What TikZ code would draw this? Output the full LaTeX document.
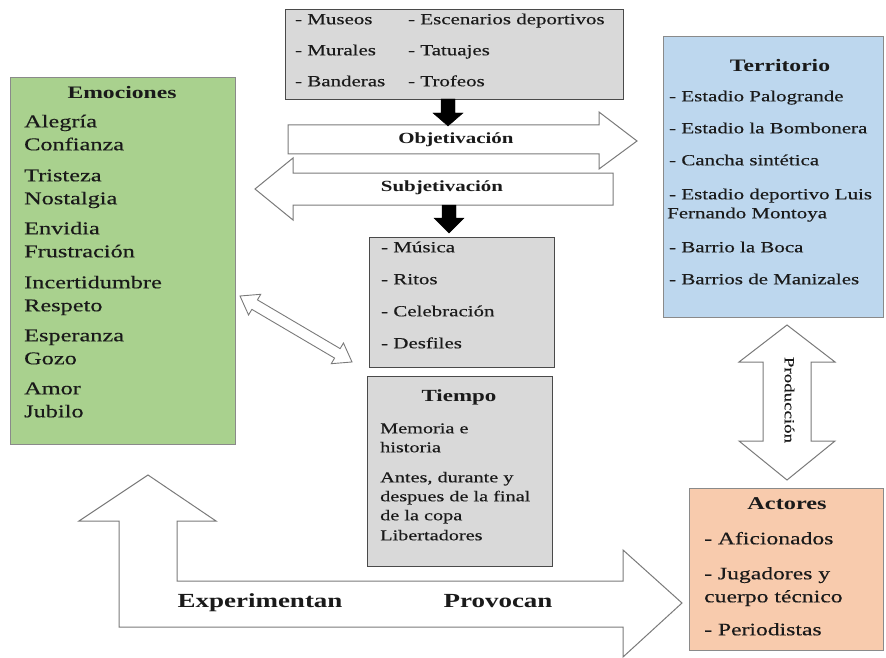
\documentclass[tikz,border=0pt]{standalone}
\usepackage{fontspec}
\setmainfont{Liberation Serif}[FakeStretch=1.35]
\newfontfamily\heavy{Liberation Serif}[FakeStretch=1.35, FakeBold=0.35]
\definecolor{grayfill}{HTML}{D9D9D9}
\definecolor{grayline}{HTML}{4A4A4A}
\definecolor{greenfill}{HTML}{A9D18E}
\definecolor{bluefill}{HTML}{BDD7EE}
\definecolor{orangefill}{HTML}{F8CBAD}
\definecolor{softline}{HTML}{8A8A8A}
\definecolor{arrowline}{HTML}{7A7A7A}
\definecolor{txtcol}{HTML}{1A1A1A}
\newcommand\fsz[1]{\heavy\fontsize{#1}{#1}\selectfont}
\newcommand\bsz[1]{\fontsize{#1}{#1}\selectfont\bfseries}
\begin{document}
\begin{tikzpicture}[x=1pt,y=-1pt,
  boxbase/.style={anchor=north west, inner sep=0pt, line width=1.1pt},
  graybox/.style={boxbase, draw=grayline, fill=grayfill},
  greenbox/.style={boxbase, draw=softline, fill=greenfill},
  bluebox/.style={boxbase, draw=softline, fill=bluefill},
  orangebox/.style={boxbase, draw=softline, fill=orangefill},
  txt/.style={anchor=mid west, inner sep=0pt, text=txtcol},
  ctxt/.style={anchor=mid, inner sep=0pt, text=txtcol},
  hollow/.style={draw=arrowline, fill=white, line width=1pt, line join=miter},
  blk/.style={fill=black, draw=black, line width=0.4pt, line join=miter}]
\useasboundingbox (0,0) rectangle (886,658);

% ---------- boxes ----------
\node[graybox, minimum width=338pt, minimum height=90pt] (objetos) at (285,9) {};
\node[graybox, minimum width=185pt, minimum height=130pt] (musica) at (369,237) {};
\node[graybox, minimum width=185pt, minimum height=190pt] (tiempo) at (367,376) {};
\node[greenbox, minimum width=225pt, minimum height=367pt] (emociones) at (10,77) {};
\node[bluebox, minimum width=220pt, minimum height=281pt] (territorio) at (663,36) {};
\node[orangebox, minimum width=194pt, minimum height=162pt] (actores) at (689,488) {};

% ---------- hollow arrows ----------
% Objetivacion (to the right)
\draw[hollow] (288,125) -- (599,125) -- (599,112) -- (637,141) -- (599,169)
  -- (599,154) -- (288,154) -- cycle;
% Subjetivacion (to the left)
\draw[hollow] (613,173) -- (293,173) -- (293,158) -- (255,189) -- (293,220)
  -- (293,205) -- (613,205) -- cycle;
% Produccion (vertical double)
\draw[hollow] (787,325) -- (835,362) -- (811,362) -- (811,441) -- (835,441)
  -- (787,480) -- (739,441) -- (763,441) -- (763,362) -- (739,362) -- cycle;
% diagonal double arrow
\begin{scope}[shift={(240,296)}, rotate=-30.5]
\draw[hollow, line width=0.9pt] (0,0) -- (17,-12) -- (17,-5.5) -- (113,-5.5) -- (113,-12)
  -- (130,0) -- (113,12) -- (113,5.5) -- (17,5.5) -- (17,12) -- cycle;
\end{scope}
% big L-shaped arrow
\draw[hollow] (148,475) -- (216,521) -- (177,521) -- (177,581) -- (623,581)
  -- (623,550) -- (682,603) -- (623,657) -- (623,627) -- (119,627)
  -- (119,521) -- (79,521) -- cycle;

% ---------- black arrows ----------
\draw[blk] (441,99) -- (441,113) -- (433,113) -- (448,126) -- (463,113)
  -- (455,113) -- (455,99) -- cycle;
\draw[blk] (442,205) -- (442,218) -- (434,218) -- (449,233) -- (464,218)
  -- (456,218) -- (456,205) -- cycle;

% ---------- texts: top box ----------
\node[txt, font={\fsz{15.5}}] (o1) at (295,22) {- Museos};
\node[txt, font={\fsz{15.5}}] (o2) at (408,22) {- Escenarios deportivos};
\node[txt, font={\fsz{15.5}}] (o3) at (295,53) {- Murales};
\node[txt, font={\fsz{15.5}}] (o4) at (408,53) {- Tatuajes};
\node[txt, font={\fsz{15.5}}] (o5) at (295,84) {- Banderas};
\node[txt, font={\fsz{15.5}}] (o6) at (408,84) {- Trofeos};

% arrow labels
\node[ctxt, font={\bsz{15.5}}] (objl) at (456,141) {Objetivación};
\node[ctxt, font={\bsz{15.5}}] (subl) at (442,189) {Subjetivación};
\node[ctxt, font={\bsz{20}}] (expl) at (260,605) {Experimentan};
\node[ctxt, font={\bsz{20}}] (prol) at (498,605) {Provocan};
\node[ctxt, font={\fsz{14}}, rotate=-90] (prodl) at (787,400) {Producción};

% ---------- Musica box ----------
\node[txt, font={\fsz{15.5}}] (m1) at (381,250) {- Música};
\node[txt, font={\fsz{15.5}}] (m2) at (381,282) {- Ritos};
\node[txt, font={\fsz{15.5}}] (m3) at (381,314) {- Celebración};
\node[txt, font={\fsz{15.5}}] (m4) at (381,346) {- Desfiles};

% ---------- Tiempo box ----------
\node[ctxt, font={\bsz{17}}] (tt) at (459,399) {Tiempo};
\node[txt, font={\fsz{15}}] (t1) at (380,431) {Memoria e};
\node[txt, font={\fsz{15}}] (t2) at (380,450) {historia};
\node[txt, font={\fsz{15}}] (t3) at (380,480) {Antes, durante y};
\node[txt, font={\fsz{15}}] (t4) at (380,499) {despues de la final};
\node[txt, font={\fsz{15}}] (t5) at (380,518) {de la copa};
\node[txt, font={\fsz{15}}] (t6) at (380,538) {Libertadores};

% ---------- Emociones box ----------
\node[ctxt, font={\bsz{17.5}}] (et) at (122,96) {Emociones};
\node[txt, font={\fsz{18}}] (e1) at (24,125) {Alegría};
\node[txt, font={\fsz{18}}] (e2) at (24,148) {Confianza};
\node[txt, font={\fsz{18}}] (e3) at (24,179) {Tristeza};
\node[txt, font={\fsz{18}}] (e4) at (24,202) {Nostalgia};
\node[txt, font={\fsz{18}}] (e5) at (24,232) {Envidia};
\node[txt, font={\fsz{18}}] (e6) at (24,255) {Frustración};
\node[txt, font={\fsz{18}}] (e7) at (24,286) {Incertidumbre};
\node[txt, font={\fsz{18}}] (e8) at (24,309) {Respeto};
\node[txt, font={\fsz{18}}] (e9) at (24,339) {Esperanza};
\node[txt, font={\fsz{18}}] (e10) at (24,362) {Gozo};
\node[txt, font={\fsz{18}}] (e11) at (24,392) {Amor};
\node[txt, font={\fsz{18}}] (e12) at (24,415) {Jubilo};

% ---------- Territorio box ----------
\node[ctxt, font={\bsz{17.5}}] (tert) at (780,69) {Territorio};
\node[txt, font={\fsz{15.5}}] (r1) at (669,99) {- Estadio Palogrande};
\node[txt, font={\fsz{15.5}}] (r2) at (669,131) {- Estadio la Bombonera};
\node[txt, font={\fsz{15.5}}] (r3) at (669,163) {- Cancha sintética};
\node[txt, font={\fsz{15.5}}] (r4) at (669,197) {- Estadio deportivo Luis};
\node[txt, font={\fsz{15.5}}] (r5) at (667,216) {Fernando Montoya};
\node[txt, font={\fsz{15.5}}] (r6) at (669,250) {- Barrio la Boca};
\node[txt, font={\fsz{15.5}}] (r7) at (669,282) {- Barrios de Manizales};

% ---------- Actores box ----------
\node[ctxt, font={\bsz{18}}] (at) at (787,507) {Actores};
\node[txt, font={\fsz{17.5}}] (a1) at (704,542) {- Aficionados};
\node[txt, font={\fsz{17.5}}] (a2) at (704,577) {- Jugadores y};
\node[txt, font={\fsz{17.5}}] (a3) at (704,600) {cuerpo técnico};
\node[txt, font={\fsz{17.5}}] (a4) at (704,633) {- Periodistas};
\end{tikzpicture}
\end{document}
